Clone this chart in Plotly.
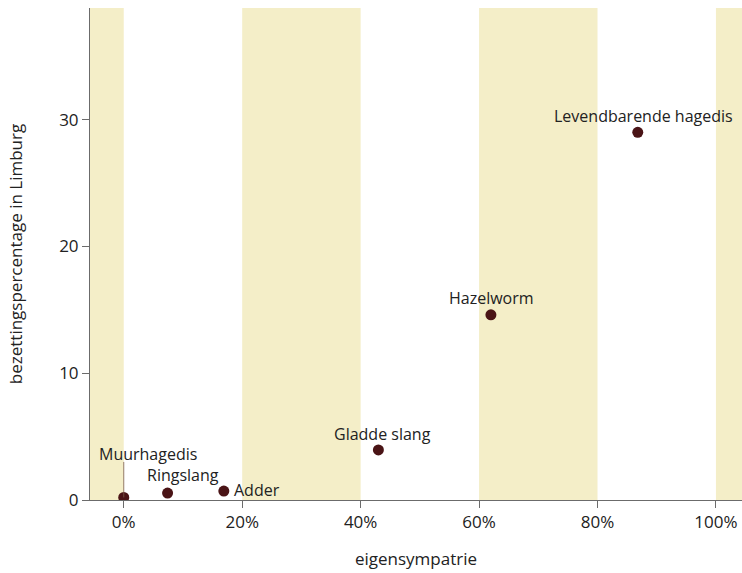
import plotly.graph_objects as go

species = ["Muurhagedis", "Ringslang", "Adder", "Gladde slang", "Hazelworm", "Levendbarende hagedis"]
sympathy = [0.0, 0.074, 0.169, 0.430, 0.620, 0.868]   # fraction
occupancy = [0.2, 0.55, 0.7, 3.95, 14.6, 29.0]         # %
x_ticks = [0, 0.2, 0.4, 0.6, 0.8, 1.0]
y_ticks = [0, 10, 20, 30]
band_edges = [(-0.2, 0.0), (0.2, 0.4), (0.6, 0.8), (1.0, 1.2)]

# label placement: (xshift px, yshift px, xanchor)
label_pos = {
    "Muurhagedis": (24, 43, "center"),
    "Ringslang": (15, 18, "center"),
    "Adder": (8, 1, "left"),
    "Gladde slang": (4, 16, "center"),
    "Hazelworm": (1, 17, "center"),
    "Levendbarende hagedis": (6, 16, "center"),
}

FONT = "Open Sans"
band_col = "#f4eec8"
pt_col = "#4a1416"
ax_col = "#6b6b6b"
txt_col = "#222"

fig = go.Figure()
fig.add_trace(go.Scatter(
    x=sympathy, y=occupancy, mode="markers",
    marker=dict(size=11, color=pt_col),
    hoverinfo="text", text=species, showlegend=False,
))

shapes = []
for x0, x1 in band_edges:
    shapes.append(dict(type="rect", xref="x", yref="paper", x0=x0, x1=x1, y0=0, y1=1,
                       fillcolor=band_col, line=dict(width=0), layer="below"))
# leader line for Muurhagedis
i0 = species.index("Muurhagedis")
shapes.append(dict(type="line", xref="x", yref="y", x0=sympathy[i0], x1=sympathy[i0],
                   y0=occupancy[i0], y1=occupancy[i0] + 2.8,
                   line=dict(color="#7a5a4a", width=0.8)))

annotations = []
for s, x, y in zip(species, sympathy, occupancy):
    xs, ys, xa = label_pos[s]
    annotations.append(dict(x=x, y=y, xref="x", yref="y", text=s, showarrow=False,
                            xshift=xs, yshift=ys, xanchor=xa, yanchor="middle",
                            font=dict(family=FONT, size=16, color=txt_col)))

fig.update_layout(
    width=742, height=573,
    margin=dict(l=90, r=0, t=8, b=73, autoexpand=False),
    paper_bgcolor="white", plot_bgcolor="white",
    shapes=shapes, annotations=annotations,
    font=dict(family=FONT, size=17, color=txt_col),
    xaxis=dict(range=[-0.057, 1.044], tickvals=x_ticks, tickformat=".0%", automargin=False,
               showgrid=False, zeroline=False, showline=True, linecolor=ax_col, linewidth=1,
               ticks="outside", ticklen=7, tickcolor=ax_col,
               tickfont=dict(family=FONT, size=17, color=txt_col),
               title=dict(text="eigensympatrie", font=dict(family=FONT, size=17, color=txt_col), standoff=20)),
    yaxis=dict(range=[0, 38.8], tickvals=y_ticks, automargin=False,
               showgrid=False, zeroline=False, showline=True, linecolor=ax_col, linewidth=1,
               ticks="outside", ticklen=7, tickcolor=ax_col,
               tickfont=dict(family=FONT, size=17, color=txt_col),
               title=dict(text="bezettingspercentage in Limburg", font=dict(family=FONT, size=17, color=txt_col), standoff=32)),
)

fig.write_html("out.html", config={"displayModeBar": False},
               post_script="document.body.style.margin='0';")
